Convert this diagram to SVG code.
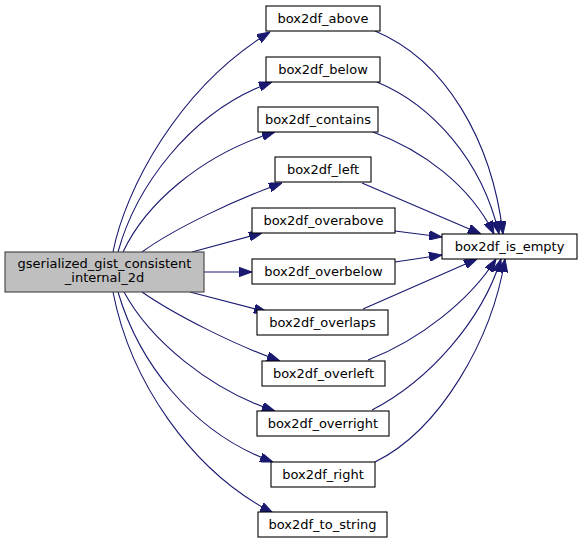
<svg xmlns="http://www.w3.org/2000/svg" width="583" height="544" viewBox="0 0 583 544">
<style>
.n rect{fill:#ffffff;stroke:#000000;stroke-width:1.1}
.n.main rect{fill:#bfbfbf;stroke:#404040}
.n text{font-family:"DejaVu Sans",sans-serif;font-size:13px;fill:#000000;text-anchor:middle}
.e path{fill:none;stroke:#191970;stroke-width:1.1;marker-end:url(#ah)}
</style>
<defs>
<marker id="ah" viewBox="0 0 13 9.4" refX="13" refY="4.7" markerWidth="13" markerHeight="9.4" markerUnits="userSpaceOnUse" orient="auto">
<path d="M0,0 L13,4.7 L0,9.4 z" fill="#191970" stroke="#191970"/>
</marker>
</defs>
<rect width="583" height="544" fill="#ffffff"/>
<g id="edges" class="e">
<path d="M113,252 C125,190 178,88 270,32"/>
<path d="M118,252 C135,190 188,112 272,82"/>
<path d="M123,252 C145,205 200,155 275,132"/>
<path d="M142,252 C175,228 235,200 282,183"/>
<path d="M192,252 L262,233"/>
<path d="M204,272 L252,272"/>
<path d="M190,292 L267,312"/>
<path d="M142,292 C175,315 235,345 280,361"/>
<path d="M124,292 C150,340 210,390 275,411"/>
<path d="M118,292 C138,360 190,432 273,462"/>
<path d="M113,292 C130,380 190,470 273,513"/>
<path d="M375,31 C445,60 492,140 503,234"/>
<path d="M377,82 C432,105 482,160 499,234"/>
<path d="M373,132 C422,150 470,185 494,234"/>
<path d="M362,183 L481,234"/>
<path d="M395,231 L442,237"/>
<path d="M395,262 L442,255"/>
<path d="M363,309 L477,259"/>
<path d="M368,360 C420,340 470,300 496,259"/>
<path d="M372,410 C430,380 482,320 501,259"/>
<path d="M375,462 C440,430 492,340 505,259"/>
</g>
<g id="node-main" class="n main">
<rect x="5" y="252" width="199" height="40"/>
<text x="104.5" y="268">gserialized_gist_consistent</text>
<text x="104.5" y="282">_internal_2d</text>
</g>
<g id="node-above" class="n"><rect x="266" y="6" width="114" height="25"/><text x="323" y="23">box2df_above</text></g>
<g id="node-below" class="n"><rect x="266" y="57" width="114" height="25"/><text x="323" y="74">box2df_below</text></g>
<g id="node-contains" class="n"><rect x="258" y="107" width="120" height="25"/><text x="318" y="124">box2df_contains</text></g>
<g id="node-left" class="n"><rect x="275" y="157" width="96" height="25"/><text x="323" y="174">box2df_left</text></g>
<g id="node-overabove" class="n"><rect x="252" y="208" width="143" height="25"/><text x="323.5" y="225">box2df_overabove</text></g>
<g id="node-overbelow" class="n"><rect x="252" y="259" width="143" height="25"/><text x="323.5" y="276">box2df_overbelow</text></g>
<g id="node-overlaps" class="n"><rect x="257" y="310" width="131" height="25"/><text x="322.5" y="327">box2df_overlaps</text></g>
<g id="node-overleft" class="n"><rect x="262" y="361" width="123" height="25"/><text x="323.5" y="378">box2df_overleft</text></g>
<g id="node-overright" class="n"><rect x="257" y="411" width="132" height="25"/><text x="323" y="428">box2df_overright</text></g>
<g id="node-right" class="n"><rect x="271" y="462" width="104" height="25"/><text x="323" y="479">box2df_right</text></g>
<g id="node-to_string" class="n"><rect x="258" y="512" width="129" height="25"/><text x="322.5" y="529">box2df_to_string</text></g>
<g id="node-is_empty" class="n"><rect x="442" y="234" width="135" height="25"/><text x="509.5" y="251">box2df_is_empty</text></g>
</svg>
